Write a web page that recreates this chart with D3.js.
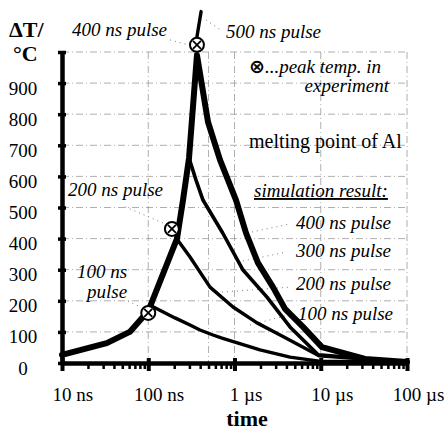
<!DOCTYPE html>
<html>
<head>
<meta charset="utf-8">
<script src="https://cdn.jsdelivr.net/npm/d3@7"></script>
<style>
    body { margin: 0; background: #fff; }
    .it { font-style: italic; }
</style>
</head>
<body>
<svg id="chart" width="444" height="432" style="font-family: 'Liberation Serif', 'Tinos', 'DejaVu Serif', 'Noto Serif', 'FreeSerif', serif"></svg>
<script>

// axis ticks
var yTicks = [0, 100, 200, 300, 400, 500, 600, 700, 800, 900, 1000],
    xMajor = [10, 100, 1000, 10000, 100000],
    xTickNums = ["10", "100", "1", "10", "100"],
    xTickUnits = [" ns", " ns", " \u00b5s", " \u00b5s", " \u00b5s"],
    vGrid = [100, 500, 1000, 10000, 100000];

// simulation results: [time in ns, temperature rise in °C]
var pulse100 = [[10, 26], [33, 64], [61, 100], [100, 167], [112, 182], [204, 145], [305, 122],
                [398, 106], [563, 90], [716, 80], [1977, 42], [4400, 19], [9550, 6], [100000, 3]];
var pulse200 = [[10, 26], [33, 64], [61, 100], [100, 167], [215, 399], [305, 341], [520, 244],
                [961, 180], [1824, 129], [3556, 87], [9550, 23], [100000, 3]];
var pulse300 = [[10, 26], [33, 64], [61, 100], [100, 167], [215, 399], [253, 524], [297, 659],
                [358, 588], [431, 524], [730, 418], [1256, 299], [2380, 212], [4400, 116],
                [9400, 26], [100000, 3]];
var pulse400 = [[10, 26], [33, 64], [61, 100], [100, 167], [215, 399], [253, 524], [297, 659],
                [367, 990], [493, 775], [679, 653], [1041, 524], [1360, 418], [1871, 322],
                [2793, 244], [3855, 174], [6227, 116], [10330, 51], [32580, 13], [100000, 3]];
var pulse500 = [[365, 1045], [410, 1130]];

// measured peak temperatures
var experiment = [[100, 161], [188, 431], [367, 1023]];

// dotted leader lines from labels to curves, in data units
var leaders = [
    [[179, 1039], [292, 1023]],
    [[468, 1103], [716, 1068]],
    [[54, 502], [148, 450]],
    [[58, 199], [82, 180]],
    [[1396, 418], [4400, 447]],
    [[1098, 325], [4060, 357]],
    [[716, 228], [4400, 244]],
    [[1514, 122], [4170, 154]]
];

var serif = "'Liberation Serif', 'Tinos', 'DejaVu Serif', 'Noto Serif', 'FreeSerif', serif";

var svg = d3.select("#chart");

var x = d3.scaleLog()
    .domain([10, 100000])
    .range([62, 407]);

var y = d3.scaleLinear()
    .domain([0, 1000])
    .range([363, 52]);

// faint dash-dot grid of the original
var grid = svg.append("g")
    .attr("stroke", "#9a9a9a")
    .attr("stroke-width", 0.8)
    .attr("stroke-dasharray", "7,3,1,3");

grid.selectAll("line.h")
    .data(yTicks.slice(1))
    .enter().append("line")
    .attr("class", "h")
    .attr("x1", x(10))
    .attr("x2", x(100000))
    .attr("y1", function(d) { return y(d); })
    .attr("y2", function(d) { return y(d); });

grid.selectAll("line.v")
    .data(vGrid)
    .enter().append("line")
    .attr("class", "v")
    .attr("x1", function(d) { return x(d); })
    .attr("x2", function(d) { return x(d); })
    .attr("y1", y(1000))
    .attr("y2", y(0));

// leaders
svg.append("g")
    .selectAll("line")
    .data(leaders)
    .enter().append("line")
    .attr("x1", function(d) { return x(d[0][0]); })
    .attr("y1", function(d) { return y(d[0][1]); })
    .attr("x2", function(d) { return x(d[1][0]); })
    .attr("y2", function(d) { return y(d[1][1]); })
    .attr("stroke", "#777")
    .attr("stroke-width", 1)
    .attr("stroke-dasharray", "1,4");

// curves
var line = d3.line()
    .x(function(d) { return x(d[0]); })
    .y(function(d) { return y(d[1]); });

var curves = [
    {data: pulse100, w: 3.4},
    {data: pulse200, w: 3.4},
    {data: pulse300, w: 3.6},
    {data: pulse400, w: 6},
    {data: pulse500, w: 3.4}
];

svg.append("g")
    .selectAll("path")
    .data(curves)
    .enter().append("path")
    .attr("d", function(d) { return line(d.data); })
    .attr("fill", "none")
    .attr("stroke", "#000")
    .attr("stroke-width", function(d) { return d.w; })
    .attr("stroke-linejoin", "round")
    .attr("stroke-linecap", "round");

// axes
var yAxis = svg.append("g")
    .attr("transform", "translate(" + x(10) + ",0)")
    .call(d3.axisLeft(y)
        .tickValues(yTicks)
        .tickSizeOuter(0)
        .tickPadding(0)
        .tickFormat(function(d) { return d < 1000 ? d : ""; }));

yAxis.attr("font-family", serif).attr("font-size", null);

yAxis.select(".domain")
    .attr("stroke-width", 4.5);

yAxis.selectAll(".tick line")
    .attr("x1", -4)
    .attr("x2", 4)
    .attr("stroke-width", 3.5);

yAxis.selectAll(".tick text")
    .attr("x", 23 - x(10))
    .attr("y", 5)
    .attr("text-anchor", "middle")
    .style("font-size", "19px");

var minor = [];
xMajor.slice(0, -1).forEach(function(m) {
    for (var k = 2; k < 10; k++) minor.push(m * k);
});

var xMinorAxis = svg.append("g")
    .attr("transform", "translate(0," + y(0) + ")")
    .call(d3.axisBottom(x).tickValues(minor).tickSize(6).tickSizeOuter(0).tickFormat(""));

xMinorAxis.select(".domain")
    .attr("stroke-width", 4.5);

xMinorAxis.selectAll(".tick line")
    .attr("stroke-width", 2.5);

var xAxis = svg.append("g")
    .attr("transform", "translate(0," + y(0) + ")")
    .call(d3.axisBottom(x).tickValues(xMajor).tickSize(8).tickSizeOuter(0).tickFormat(""));

xAxis.select(".domain").remove();

xAxis.selectAll(".tick line")
    .attr("y1", -5)
    .attr("stroke-width", 4);

// every text gets the serif face directly
function label(px, py, str, size) {
    return svg.append("text")
        .attr("x", px).attr("y", py)
        .style("font-family", serif)
        .style("font-size", (size || 19) + "px")
        .text(str);
}

// x tick labels: number centred on the tick
xMajor.forEach(function(v, i) {
    var t = label(0, 401, null);
    var num = t.append("tspan").text(xTickNums[i]);
    t.append("tspan").text(xTickUnits[i]);
    var w = num.node().getComputedTextLength();
    t.attr("x", x(v) - w / 2);
});

// experimental peak markers
var marks = svg.append("g")
    .selectAll("g")
    .data(experiment)
    .enter().append("g")
    .attr("transform", function(d) { return "translate(" + x(d[0]) + "," + y(d[1]) + ")"; });

marks.append("circle")
    .attr("r", 7)
    .attr("fill", "#fff")
    .attr("stroke", "#000")
    .attr("stroke-width", 2);

marks.append("path")
    .attr("d", "M-4,-4L4,4M-4,4L4,-4")
    .attr("stroke", "#000")
    .attr("stroke-width", 1.8);

// axis titles
label(9, 37, "\u0394T/", 22).style("font-weight", "bold");
label(13, 61, "\u00b0C", 22).style("font-weight", "bold");
label(247, 426, "time", 22).style("font-weight", "bold").attr("text-anchor", "middle");

// annotations
var notes = [
    {x: 72, y: 36, text: "400 ns pulse"},
    {x: 226, y: 38, text: "500 ns pulse"},
    {x: 68, y: 196, text: "200 ns pulse"},
    {x: 77, y: 278, text: "100 ns"},
    {x: 87, y: 298, text: "pulse"},
    {x: 296, y: 229, text: "400 ns pulse"},
    {x: 296, y: 257, text: "300 ns pulse"},
    {x: 296, y: 290, text: "200 ns pulse"},
    {x: 298, y: 320, text: "100 ns pulse"}
];

notes.forEach(function(n) {
    label(n.x, n.y, n.text).attr("class", "it");
});

var peak = label(249, 73, null);
peak.append("tspan")
    .style("font-family", "'DejaVu Sans'")
    .style("font-weight", "bold")
    .text("\u2297");
peak.append("tspan")
    .attr("class", "it")
    .text("...peak temp. in");

label(389, 92, "experiment").attr("class", "it").attr("text-anchor", "end");
label(249, 148, "melting point of Al", 20);
label(254, 197, "simulation result:")
    .attr("class", "it")
    .style("text-decoration", "underline");

</script>
</body>
</html>
